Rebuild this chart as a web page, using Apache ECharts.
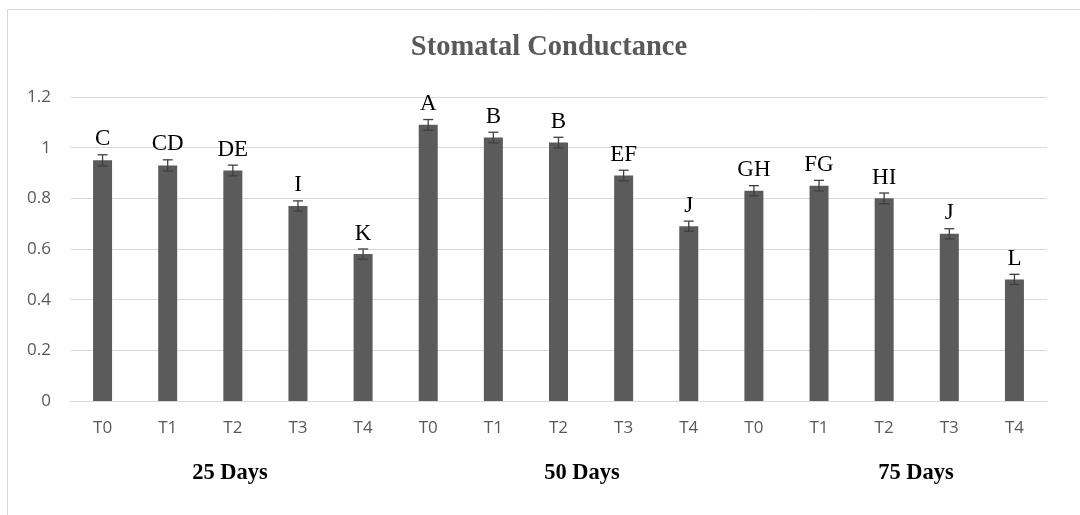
<!DOCTYPE html>
<html>
<head>
<meta charset="utf-8">
<script src="https://cdn.jsdelivr.net/npm/echarts@6/dist/echarts.min.js"></script>
<style>
  html, body { margin: 0; padding: 0; background: #ffffff; }
  #chart { width: 1080px; height: 515px; }
</style>
</head>
<body>
<div id="chart"></div>
<script>
// Treatments per sampling date
const treatments = ['T0', 'T1', 'T2', 'T3', 'T4', 'T0', 'T1', 'T2', 'T3', 'T4', 'T0', 'T1', 'T2', 'T3', 'T4'];
// Mean stomatal conductance
const conductance = [0.95, 0.93, 0.91, 0.77, 0.58, 1.09, 1.04, 1.02, 0.89, 0.69, 0.83, 0.85, 0.80, 0.66, 0.48];
// Standard error of each mean
const stdError = [0.022, 0.022, 0.021, 0.02, 0.02, 0.021, 0.021, 0.021, 0.021, 0.02, 0.02, 0.021, 0.021, 0.02, 0.02];
// Significance letters
const letters = ['C', 'CD', 'DE', 'I', 'K', 'A', 'B', 'B', 'EF', 'J', 'GH', 'FG', 'HI', 'J', 'L'];
// Sampling dates
const groupNames = ['25 Days', '50 Days', '75 Days'];
const yTicks = { min: 0, max: 1.2, interval: 0.2 };

const errorData = conductance.map((v, i) => [i, v - stdError[i], v + stdError[i], letters[i]]);

const chart = echarts.init(document.getElementById('chart'), null, { renderer: 'canvas' });

const groupCenters = [230, 582, 916];

chart.setOption({
  animation: false,
  backgroundColor: '#ffffff',
  title: {
    text: 'Stomatal Conductance',
    left: 544,
    top: 28,
    textAlign: 'center',
    textStyle: {
      fontFamily: 'Liberation Serif',
      fontWeight: 'bold',
      fontSize: 28.5,
      color: '#595959'
    }
  },
  grid: { left: 70, right: 33, top: 97, bottom: 114 },
  xAxis: {
    type: 'category',
    data: treatments,
    axisLine: { show: true, lineStyle: { color: '#d9d9d9', width: 1 } },
    axisTick: { show: false },
    axisLabel: {
      margin: 19,
      fontFamily: 'Open Sans',
      fontSize: 17,
      color: '#595959'
    }
  },
  yAxis: {
    type: 'value',
    min: yTicks.min,
    max: yTicks.max,
    interval: yTicks.interval,
    axisLine: { show: false },
    axisTick: { show: false },
    splitLine: { lineStyle: { color: '#d9d9d9', width: 1 } },
    axisLabel: {
      margin: 19,
      fontFamily: 'Open Sans',
      fontSize: 17,
      color: '#595959',
      formatter: v => String(Math.round(v * 10) / 10)
    }
  },
  graphic: [
    {
      type: 'rect',
      silent: true,
      z: -1,
      shape: { x: 7.5, y: 9.5, width: 1200, height: 700 },
      style: { fill: 'none', stroke: '#d9d9d9', lineWidth: 1 }
    },
    ...groupNames.map((name, i) => ({
      type: 'text',
      silent: true,
      x: groupCenters[i],
      y: 473,
      style: {
        text: name,
        fill: '#000000',
        font: 'bold 22.5px "Liberation Serif"',
        align: 'center',
        verticalAlign: 'middle'
      }
    }))
  ],
  series: [
    {
      type: 'bar',
      data: conductance,
      barWidth: 19,
      itemStyle: { color: '#5b5b5b' },
      z: 2
    },
    {
      type: 'custom',
      data: errorData,
      z: 3,
      renderItem: function (params, api) {
        const idx = api.value(0);
        const lo = api.coord([idx, api.value(1)]);
        const hi = api.coord([idx, api.value(2)]);
        const half = 5;
        const style = { stroke: '#3f3f3f', lineWidth: 1.3 };
        return {
          type: 'group',
          children: [
            { type: 'line', shape: { x1: hi[0], y1: hi[1], x2: lo[0], y2: lo[1] }, style },
            { type: 'line', shape: { x1: hi[0] - half, y1: hi[1], x2: hi[0] + half, y2: hi[1] }, style },
            { type: 'line', shape: { x1: lo[0] - half, y1: lo[1], x2: lo[0] + half, y2: lo[1] }, style },
            {
              type: 'text',
              x: hi[0],
              y: hi[1] - 4,
              style: {
                text: api.value(3),
                fill: '#000000',
                font: '23px "Liberation Serif"',
                align: 'center',
                verticalAlign: 'bottom'
              }
            }
          ]
        };
      }
    }
  ]
});
</script>
</body>
</html>
